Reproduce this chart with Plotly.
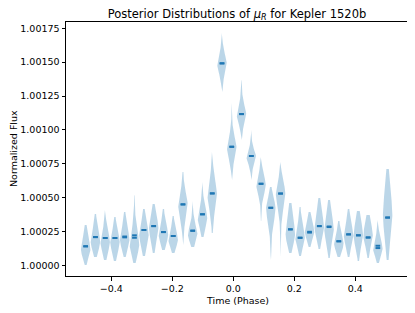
import numpy as np
import plotly.graph_objects as go

# Phase positions of the 32 violins
phase = [-0.484, -0.452, -0.420, -0.388, -0.356, -0.324, -0.293, -0.261,
         -0.229, -0.197, -0.165, -0.133, -0.101, -0.069, -0.037, -0.005,
         0.027, 0.059, 0.091, 0.123, 0.155, 0.187, 0.219, 0.250,
         0.282, 0.314, 0.346, 0.378, 0.410, 0.442, 0.474, 0.506]

medians = [1.000142, 1.000210, 1.000203, 1.000203, 1.000208, 1.000205, 1.000262, 1.000291,
           1.000247, 1.000218, 1.000451, 1.000257, 1.000378, 1.000532, 1.001491, 1.000876,
           1.001117, 1.000808, 1.000603, 1.000426, 1.000531, 1.000267, 1.000205, 1.000249,
           1.000291, 1.000284, 1.000179, 1.000230, 1.000223, 1.000207, 1.000129, 1.000354]

means = [1.000142, 1.000210, 1.000203, 1.000203, 1.000214, 1.000223, 1.000262, 1.000291,
         1.000247, 1.000218, 1.000451, 1.000257, 1.000378, 1.000532, 1.001491, 1.000876,
         1.001117, 1.000808, 1.000603, 1.000426, 1.000531, 1.000267, 1.000205, 1.000243,
         1.000291, 1.000288, 1.000179, 1.000230, 1.000223, 1.000207, 1.000146, 1.000354]

# extent of each posterior (min / max of samples)
post_min = [1.000004, 1.000063, 1.000041, 1.000033, 1.000063, 1.000018, 1.000070, 1.000092,
            1.000114, 1.000092, 1.000151, 1.000136, 1.000210, 1.000240, 1.001280, 1.000631,
            1.000926, 1.000631, 1.000328, 1.000041, 1.000063, 1.000092, 1.000070, 1.000136,
            1.000122, 1.000055, 1.000063, 1.000063, 1.000033, 1.000055, 1.000018, 1.000041]

post_max = [1.000299, 1.000380, 1.000409, 1.000358, 1.000395, 1.000520, 1.000417, 1.000454,
            1.000417, 1.000365, 1.000690, 1.000476, 1.000616, 1.000837, 1.001715, 1.001198,
            1.001368, 1.000999, 1.000800, 1.000579, 1.000763, 1.000461, 1.000431, 1.000395,
            1.000498, 1.000483, 1.000328, 1.000417, 1.000402, 1.000372, 1.000336, 1.000712]

# density peak and spreads above / below it
post_mode = [1.000114, 1.000173, 1.000173, 1.000173, 1.000188, 1.000151, 1.000225, 1.000277,
             1.000225, 1.000188, 1.000446, 1.000225, 1.000350, 1.000520, 1.001486, 1.000867,
             1.001110, 1.000800, 1.000594, 1.000424, 1.000535, 1.000225, 1.000203, 1.000247,
             1.000277, 1.000262, 1.000159, 1.000218, 1.000218, 1.000218, 1.000122, 1.000372]

spread_up = [9.6e-5, 9.6e-5, 8.6e-5, 8.6e-5, 9.6e-5, 11.6e-5, 9.6e-5, 9.6e-5,
             8.6e-5, 7.7e-5, 9.6e-5, 7.7e-5, 8.6e-5, 11.6e-5, 7.7e-5, 8.6e-5,
             7.7e-5, 5.7e-5, 7.7e-5, 7.7e-5, 8.6e-5, 13.4e-5, 9.6e-5, 7.7e-5,
             11.6e-5, 11.6e-5, 7.7e-5, 9.6e-5, 11.6e-5, 10.5e-5, 7.7e-5, 20.0e-5]

spread_down = [5.7e-5, 6.8e-5, 7.7e-5, 7.7e-5, 6.8e-5, 7.7e-5, 8.6e-5, 9.6e-5,
               6.8e-5, 5.7e-5, 10.5e-5, 5.7e-5, 7.7e-5, 11.6e-5, 7.7e-5, 8.6e-5,
               6.8e-5, 5.7e-5, 7.7e-5, 11.6e-5, 11.6e-5, 7.7e-5, 6.8e-5, 5.7e-5,
               7.7e-5, 9.6e-5, 5.7e-5, 7.7e-5, 8.6e-5, 7.7e-5, 5.7e-5, 17.3e-5]

x_ticks = [-0.4, -0.2, 0.0, 0.2, 0.4]
x_tick_text = ["\u22120.4", "\u22120.2", "0.0", "0.2", "0.4"]
y_ticks = [1.0, 1.00025, 1.0005, 1.00075, 1.001, 1.00125, 1.0015, 1.00175]
y_tick_text = ["1.00000", "1.00025", "1.00050", "1.00075", "1.00100", "1.00125", "1.00150", "1.00175"]

VIOLIN_WIDTH = 0.031
BLUE = "#1f77b4"

# Build violin outlines
vx, vy = [], []
nu = 4.0
for p, lo, hi, mo, su, sd in zip(phase, post_min, post_max, post_mode, spread_up, spread_down):
    ys = np.linspace(lo, hi, 90)
    d = np.where(ys >= mo, (ys - mo) / su, (mo - ys) / sd)
    dens = (1 + d ** 2 / nu) ** (-(nu + 1) / 2)
    w = dens / dens.max() * VIOLIN_WIDTH / 2
    xs = np.concatenate([p + w, (p - w)[::-1]])
    yy = np.concatenate([ys, ys[::-1]])
    vx += list(xs) + [xs[0], None]
    vy += list(yy) + [yy[0], None]

fig = go.Figure()
fig.add_trace(go.Scatter(x=vx, y=vy, mode="lines", fill="toself",
                         fillcolor="rgba(31,119,180,0.3)", line=dict(width=0),
                         hoverinfo="skip", showlegend=False))

def hlines(vals):
    lx, ly = [], []
    for p, v in zip(phase, vals):
        lx += [p - VIOLIN_WIDTH / 4, p + VIOLIN_WIDTH / 4, None]
        ly += [v, v, None]
    return lx, ly

mx, my = hlines(medians)
fig.add_trace(go.Scatter(x=mx, y=my, mode="lines", line=dict(color=BLUE, width=2),
                         showlegend=False))
ax, ay = hlines(means)
fig.add_trace(go.Scatter(x=ax, y=ay, mode="lines", line=dict(color=BLUE, width=2),
                         showlegend=False))

FONT = "DejaVu Sans"
axis_common = dict(showline=True, mirror=True, linecolor="black", linewidth=1,
                   ticks="outside", ticklen=3.5, tickwidth=0.8, tickcolor="black",
                   showgrid=False, zeroline=False, automargin=False,
                   tickfont=dict(family=FONT, size=9.5, color="black"))

# The page body adds an 8px offset; the figure is sized to fit the window.
W, H = 407, 305
L, R, T, B = 58, 7, 14, 37
plot_w = W - L - R
plot_h = H - T - B

fig.update_layout(
    width=W, height=H,
    margin=dict(l=L, r=R, t=T, b=B, autoexpand=False),
    paper_bgcolor="white", plot_bgcolor="white",
    title=dict(text="Posterior Distributions of <i>\u03bc</i><sub><i>R</i></sub> for Kepler 1520b",
               x=0.5, xref="paper", xanchor="center", y=1 - 5.5 / H, yref="container",
               yanchor="middle",
               font=dict(family=FONT, size=11.5, color="black")),
    xaxis=dict(range=[-0.5485, 0.5728], tickvals=x_ticks, ticktext=x_tick_text, **axis_common),
    yaxis=dict(range=[0.999923, 1.001796], tickvals=y_ticks, ticktext=y_tick_text, **axis_common),
    annotations=[
        dict(text="Time (Phase)", x=0.5, xref="paper", y=-24.7 / plot_h, yref="paper",
             xanchor="center", yanchor="middle", showarrow=False,
             font=dict(family=FONT, size=9.5, color="black")),
        dict(text="Normalized Flux", textangle=-90, x=-53.0 / plot_w, xref="paper",
             y=0.5, yref="paper", xanchor="center", yanchor="middle", showarrow=False,
             font=dict(family=FONT, size=9.5, color="black")),
    ],
)

fig.write_html("out.html")
